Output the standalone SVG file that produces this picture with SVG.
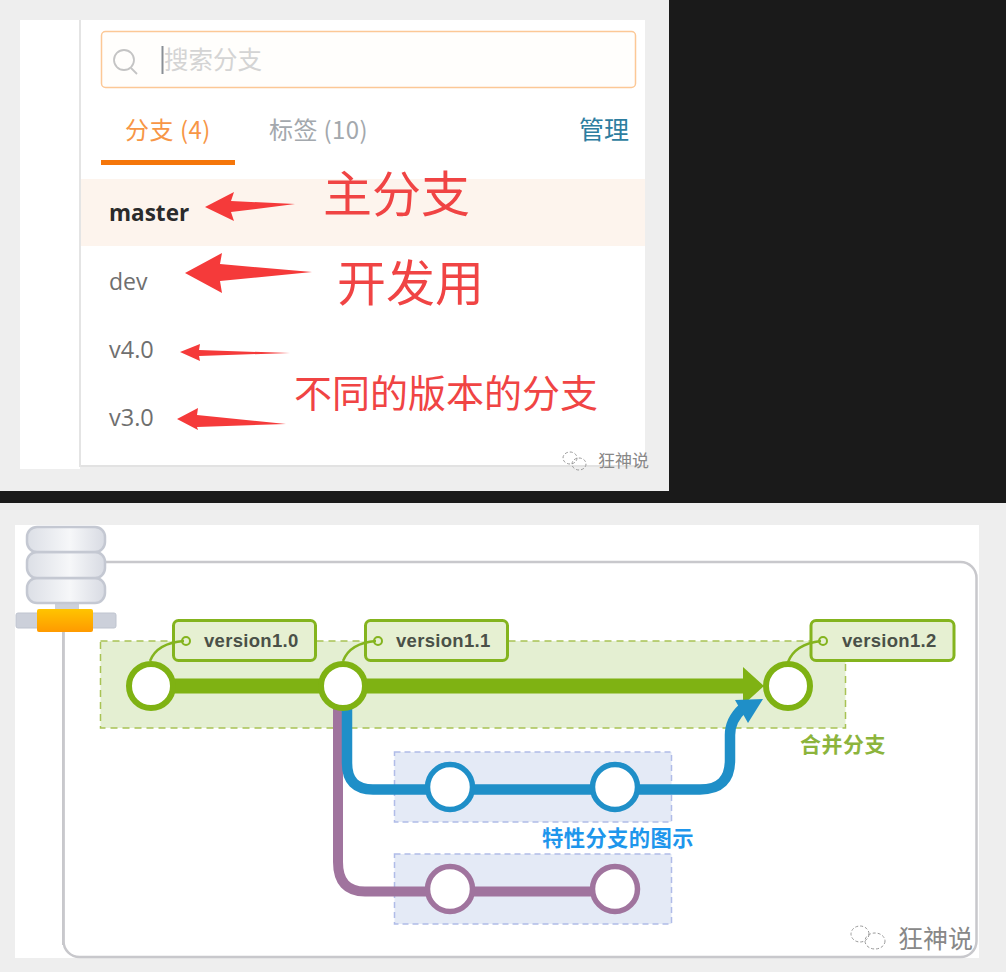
<svg xmlns="http://www.w3.org/2000/svg" width="1006" height="972" viewBox="0 0 1006 972">
<style>
text{font-family:"Noto Sans CJK SC","Liberation Sans",sans-serif}
.latin{font-family:"Open Sans","Noto Sans CJK SC",sans-serif}
.red{fill:#f04444}
.ver{font-family:"Liberation Sans","Noto Sans CJK SC",sans-serif;font-size:18.500px;font-weight:700;fill:#4a5048;stroke:none;letter-spacing:.3px}
.tag{fill:#e6f0d2;stroke:#84b41e;stroke-width:3}
.pin{fill:none;stroke:#84b41e;stroke-width:2.500}
.dot{fill:#e6f0d2;stroke:#84b41e;stroke-width:2}
.g{fill:#fff;stroke:#7fb213;stroke-width:6}
.b{fill:#fff;stroke:#1f8fc8;stroke-width:5.500}
.p{fill:#fff;stroke:#a0749e;stroke-width:5.500}
.arrow{fill:#f53a3a}
.disk{fill:url(#disk);stroke:#c4c8d2;stroke-width:2.500}
.feat{fill:#e4eaf6;stroke:#b0bce8;stroke-width:1.500;stroke-dasharray:6 4}
.wm{fill:none;stroke:#999;stroke-width:1;stroke-dasharray:3 2}
</style>
<defs>
<linearGradient id="disk" x1="0" x2="1" y1="0" y2="0"><stop offset="0" stop-color="#dcdfe6"/><stop offset=".55" stop-color="#f6f7f9"/><stop offset="1" stop-color="#d8dbe3"/></linearGradient>
<linearGradient id="orange" x1="0" x2="0" y1="0" y2="1"><stop offset="0" stop-color="#ffc400"/><stop offset="1" stop-color="#ff9a00"/></linearGradient>
</defs>
<rect width="1006" height="972" fill="#1a1a1a"/>
<g id="branch-list">
<rect x="0" y="0" width="669" height="491" fill="#eeeeee"/>
<rect x="20" y="20" width="60" height="449" fill="#ffffff"/>
<rect x="81" y="20" width="564" height="445" fill="#ffffff"/>
<rect x="79" y="20" width="2" height="447" fill="#e4e4e4"/>
<rect x="81" y="465" width="564" height="2" fill="#e2e2e2"/>
<rect x="101.500" y="31.500" width="534" height="56" rx="4" fill="#fffefc" stroke="#fcc896" stroke-width="1.500"/>
<circle cx="124" cy="60" r="10" fill="none" stroke="#c4c4c4" stroke-width="1.800"/>
<path d="M131 68l6 6" stroke="#c4c4c4" stroke-width="1.800"/>
<rect x="161.500" y="46" width="2" height="28" fill="#8a8f96"/>
<text x="164" y="69" font-size="24.500" fill="#d4d4d4">搜索分支</text>
<text x="125" y="139" font-size="24" fill="#f79646" letter-spacing=".5">分支 (4)</text>
<text x="269" y="139" font-size="24" fill="#a3a8ad" letter-spacing=".4">标签 (10)</text>
<text x="579" y="139" font-size="25" fill="#2d7d9f">管理</text>
<rect x="101" y="160" width="134" height="5" fill="#f5760a"/>
<rect x="81" y="179" width="564" height="67" fill="#fdf4ed"/>
<text class="latin" x="109" y="221" font-size="22.500" font-weight="700" fill="#2b2b2b">master</text>
<text class="latin" x="109" y="290" font-size="23" fill="#6f6f6f">dev</text>
<text class="latin" x="109" y="358" font-size="23.500" fill="#6f6f6f">v4.0</text>
<text class="latin" x="109" y="426" font-size="23.500" fill="#6f6f6f">v3.0</text>
<path class="arrow" d="M205 207L234 192L231 201L295 204L231 212L234 221Z"/>
<path class="arrow" d="M185 273L222 253L220 264L312 272L220 281L222 293Z"/>
<path class="arrow" d="M180 352L200 344L199 350L290 353L199 356L200 361Z"/>
<path class="arrow" d="M177 419L198 408L197 415L286 424L197 427L198 430Z"/>
<text class="red" x="323" y="212" font-size="49">主分支</text>
<text class="red" x="337" y="301" font-size="49">开发用</text>
<text class="red" x="294" y="407" font-size="38">不同的版本的分支</text>
</g>
<g id="git-flow">
<rect x="0" y="503" width="1006" height="469" fill="#eeeeee"/>
<rect x="15" y="525" width="964" height="433" fill="#ffffff"/>
<rect x="63.500" y="562" width="913" height="395" rx="16" fill="#fff" stroke="#c8c8cc" stroke-width="2.500"/>
<rect x="15" y="525" width="48" height="433" fill="#fff"/>
<rect x="62" y="630" width="2.500" height="315" fill="#c8c8cc"/>
</g>
<g id="server">
<rect x="55" y="600" width="24" height="12" fill="#cdd1da"/>
<rect x="16" y="613" width="100" height="15" rx="2" fill="#ccd0da" stroke="#bfc4cf"/>
<rect x="37" y="609" width="56" height="23" rx="2" fill="url(#orange)"/>
<rect x="27" y="578" width="78" height="25" rx="10" class="disk"/>
<rect x="27" y="552" width="78" height="26" rx="10" class="disk"/>
<rect x="27" y="527" width="78" height="25" rx="10" class="disk"/>
</g>
<rect id="release-zone" x="100.500" y="641" width="745" height="87" fill="#e4efd2" stroke="#a8c254" stroke-width="1.500" stroke-dasharray="7 5"/>
<rect id="feature-zone-1" class="feat" x="394.500" y="752" width="277" height="70"/>
<rect id="feature-zone-2" class="feat" x="394.500" y="854" width="277" height="70"/>
<g id="tag-1"><rect class="tag" x="173.500" y="620.500" width="142" height="40" rx="5"/><circle class="dot" cx="186" cy="641" r="4"/><text class="ver" x="204" y="647">version1.0</text></g>
<g id="tag-2"><rect class="tag" x="365.500" y="620.500" width="142" height="40" rx="5"/><circle class="dot" cx="378" cy="641" r="4"/><text class="ver" x="396" y="647">version1.1</text></g>
<g id="tag-3"><rect class="tag" x="811" y="620.500" width="143" height="40" rx="5"/><circle class="dot" cx="823" cy="641" r="4"/><text class="ver" x="842" y="647">version1.2</text></g>
<g id="connectors" fill="none">
<path d="M151 686H745" stroke="#7fb213" stroke-width="15"/>
<path d="M743 667L764 686L743 705Z" fill="#7fb213"/>
<path d="M338 700V862Q338 891.500 365 891.500H615" stroke="#a0749e" stroke-width="10"/>
<path d="M347 700V763Q347 789.500 373 789.500H700Q730 789.500 730 760V735Q730 720 743 708" stroke="#1f8fc8" stroke-width="10.500"/>
<path d="M735 700L763 699L748 723Z" fill="#1f8fc8"/>
<path class="pin" d="M150 661Q157 643 184 641"/>
<path class="pin" d="M343 661Q350 643 376 641"/>
<path class="pin" d="M788 662Q795 644 821 641"/>
</g>
<g id="commit-g1"><circle class="g" cx="151" cy="686" r="22"/></g>
<g id="commit-g2"><circle class="g" cx="343" cy="686" r="22"/></g>
<g id="commit-g3"><circle class="g" cx="788" cy="686" r="22"/></g>
<g id="commit-b1"><circle class="b" cx="450" cy="787" r="22.500"/></g>
<g id="commit-b2"><circle class="b" cx="615" cy="787" r="22.500"/></g>
<g id="commit-p1"><circle class="p" cx="450" cy="889" r="22.500"/></g>
<g id="commit-p2"><circle class="p" cx="615" cy="889" r="22.500"/></g>
<text x="800" y="752" font-size="21" font-weight="700" fill="#8cb43c" letter-spacing=".5">合并分支</text>
<text x="542" y="846" font-size="21.300" font-weight="700" fill="#1e96ec" letter-spacing=".4">特性分支的图示</text>
<g id="watermark-1">
<ellipse class="wm" cx="570" cy="458" rx="7" ry="6"/><ellipse class="wm" cx="579" cy="464" rx="7" ry="6"/>
<text x="598" y="467" font-size="17" fill="#888">狂神说</text>
</g>
<g id="watermark-2">
<ellipse class="wm" cx="860" cy="934" rx="9" ry="8"/><ellipse class="wm" cx="875" cy="941" rx="10" ry="8"/>
<text x="898" y="948" font-size="25" fill="#888">狂神说</text>
</g>
</svg>
